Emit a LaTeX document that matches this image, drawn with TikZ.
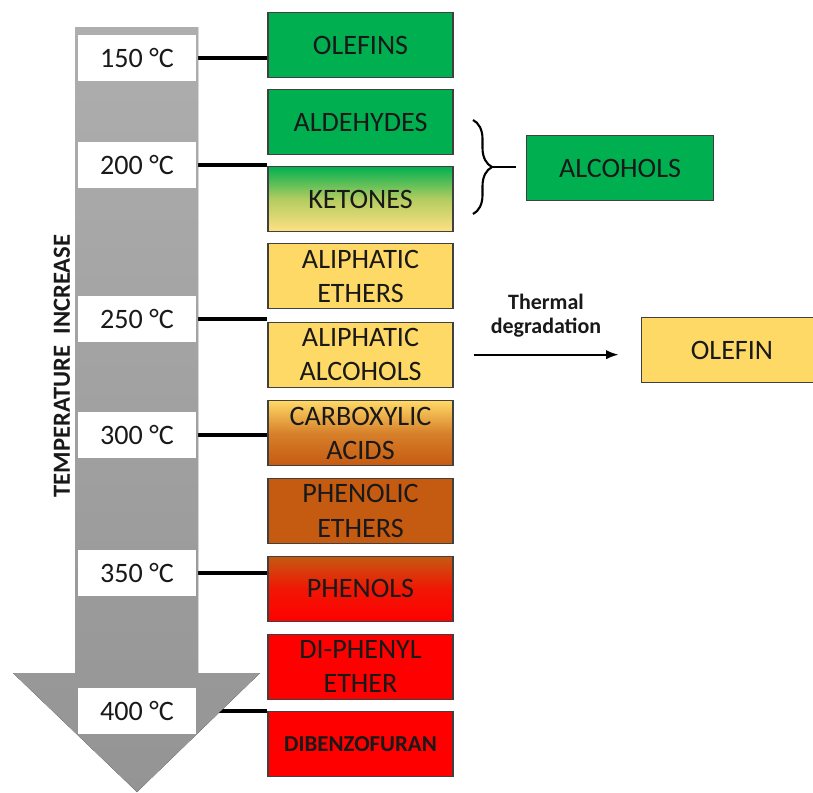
\documentclass[tikz,border=0pt]{standalone}
\usepackage{fontspec}
\setmainfont{Carlito}
\usepackage{tikz}
\usetikzlibrary{arrows.meta, positioning, calc, backgrounds, decorations.pathreplacing}
\definecolor{grgreen}{RGB}{0, 176, 80}
\definecolor{gryellow}{RGB}{255, 217, 102}
\definecolor{grorange}{RGB}{197, 90, 17}
\definecolor{grred}{RGB}{255, 0, 0}
\definecolor{shafttop}{RGB}{174, 174, 174}
\definecolor{shaftbot}{RGB}{148, 148, 148}
\definecolor{boxline}{RGB}{64, 64, 64}

\begin{document}
\begin{tikzpicture}[
    x=0.02cm, y=-0.02cm,
    every node/.style={font=\fontsize{16}{19.5}\selectfont, text=black!90},
    groupbox/.style={
        rectangle,
        draw=boxline,
        line width=0.6pt,
        text width=3.5cm,
        inner xsep=0.1cm,
        inner ysep=0pt,
        minimum height=1.3cm,
        align=center
    },
    templabel/.style={
        rectangle,
        fill=white,
        minimum width=2.36cm,
        minimum height=0.92cm,
        inner sep=0pt
    },
    leader/.style={
        line width=2pt,
        draw=black
    },
    arrow/.style={
        line width=1pt,
        -{Latex[length=2.5mm]},
        draw=black
    }
]
\useasboundingbox (0,0) rectangle (813,792);

% ==================== TEMPERATURE ARROW ====================
\fill [top color=shafttop, bottom color=shaftbot]
    (75,27) -- (198,27) -- (198,673) -- (260,673) -- (137,792)
    -- (13,673) -- (75,673) -- cycle;
\node (tempaxis) [rotate=90, font=\bfseries\fontsize{14}{16}\selectfont] at (62,366) {TEMPERATURE\ \ INCREASE};

\node (t150) [templabel] at (137,58) {150 °C};
\node (t200) [templabel] at (137,165) {200 °C};
\node (t250) [templabel] at (137,319) {250 °C};
\node (t300) [templabel] at (137,435) {300 °C};
\node (t350) [templabel] at (137,573) {350 °C};
\node (t400) [templabel] at (137,711) {400 °C};

% ==================== PRODUCT COLUMN ====================
\node (olefins) [groupbox, fill=grgreen] at (360.5,45) {OLEFINS};
\node (aldehydes) [groupbox, fill=grgreen, below=0.22cm of olefins] {ALDEHYDES};
\node (ketones) [groupbox, top color=grgreen, bottom color=gryellow!80!white, middle color=grgreen!30!gryellow, below=0.22cm of aldehydes] {KETONES};
\node (ethers) [groupbox, fill=gryellow, below=0.22cm of ketones] {ALIPHATIC\\ETHERS};
\node (alcohols) [groupbox, fill=gryellow, below=0.25cm of ethers] {ALIPHATIC\\ALCOHOLS};
\node (acids) [groupbox, top color=gryellow, bottom color=grorange, middle color=grorange!70!gryellow, below=0.25cm of alcohols] {CARBOXYLIC\\ACIDS};
\node (phethers) [groupbox, fill=grorange, below=0.235cm of acids] {PHENOLIC\\ETHERS};
\node (phenols) [groupbox, top color=grorange, bottom color=grred, middle color=grred!75!grorange, below=0.235cm of phethers] {PHENOLS};
\node (diphenyl) [groupbox, fill=grred, below=0.235cm of phenols] {DI-PHENYL\\ETHER};
\node (dibenzo) [groupbox, fill=grred, font=\bfseries\fontsize{13}{15}\selectfont, below=0.235cm of diphenyl] {DIBENZOFURAN};

% ==================== RIGHT SIDE ====================
\node (alcgroup) [groupbox, fill=grgreen, text width=3.54cm] at (620,168) {ALCOHOLS};
\node (olefin) [groupbox, fill=gryellow, text width=3.44cm] at (732,350) {OLEFIN};

\coordinate (brtop) at (473,120);
\coordinate (brbot) at (473,214);
\coordinate (brtip) at (492,167);
\draw [line width=1.2pt, decorate, decoration={brace, amplitude=0.38cm}] (brtop) -- (brbot);
\draw [leader, line width=1.2pt] (brtip) -- ([xshift=-0.2cm]brtip -| alcgroup.west);

\draw [arrow] ([xshift=0.4cm]alcohols.east) -- ([xshift=-0.44cm]alcohols.east -| olefin.west)
    node [midway, above=6pt, align=center, font=\bfseries\fontsize{12.5}{13.5}\selectfont] {Thermal\\degradation};

% Leader lines behind the arrow
\begin{scope}[on background layer]
    \draw [leader] (t150.west) -- (t150.west -| olefins.west);
    \draw [leader] (t200.west) -- (t200.west -| ketones.west);
    \draw [leader] (t250.west) -- (t250.west -| alcohols.west);
    \draw [leader] (t300.west) -- (t300.west -| acids.west);
    \draw [leader] (t350.west) -- (t350.west -| phenols.west);
    \draw [leader] (t400.west) -- (t400.west -| dibenzo.west);
\end{scope}

\end{tikzpicture}
\end{document}
